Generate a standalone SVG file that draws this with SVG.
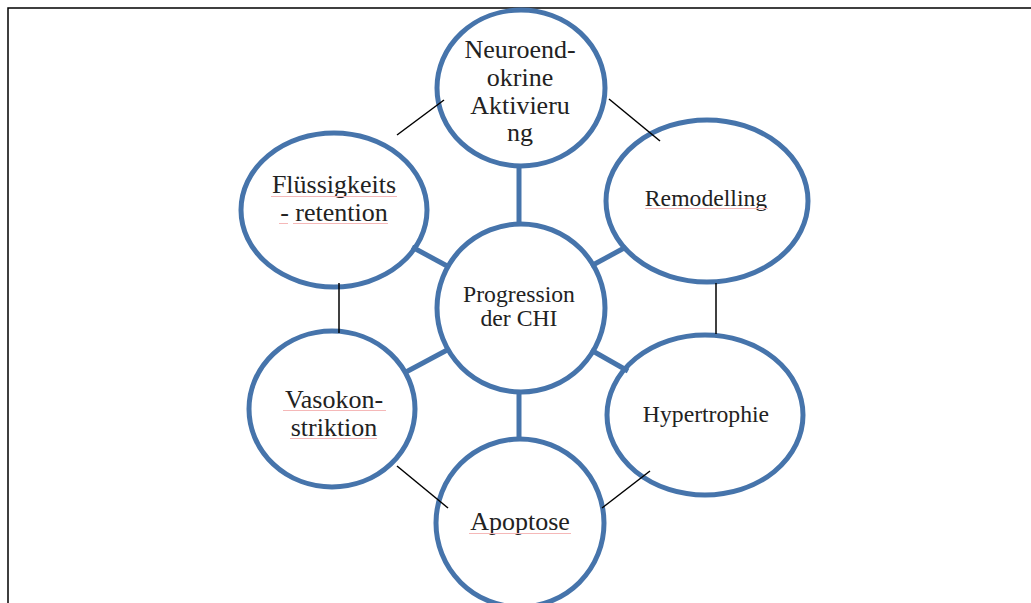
<svg xmlns="http://www.w3.org/2000/svg" width="1031" height="603" viewBox="0 0 1031 603">
<style>
.c{fill:#fff;stroke:#4674ab;stroke-width:5}
.t{font-family:"Liberation Serif","Times New Roman",serif;fill:#222;text-anchor:middle}
.l{font-size:26px}
.s{font-size:23.7px}
.thick{stroke:#4674ab;stroke-width:5;fill:none}
.thin{stroke:#000;stroke-width:1.5;fill:none}
.sq{stroke:#f5b8b8;stroke-width:1;fill:none}
</style>
<rect x="0" y="0" width="1031" height="603" fill="#fff"/>
<path d="M8 603 V8 H1031" fill="none" stroke="#000" stroke-width="1.5"/>
<g id="center">
<ellipse class="c" cx="521" cy="308" rx="84" ry="84"/>
<text class="t s" x="519" y="302">Progression</text>
<text class="t s" x="519" y="326">der CHI</text>
</g>
<g id="neuro">
<ellipse class="c" cx="521" cy="88" rx="84" ry="78"/>
<text class="t l" x="520" y="58">Neuroend-</text>
<text class="t l" x="520" y="86">okrine</text>
<text class="t l" x="520" y="114">Aktivieru</text>
<text class="t l" x="520" y="141">ng</text>
</g>
<g id="fluessig">
<ellipse class="c" cx="334" cy="210" rx="93" ry="77"/>
<text class="t l" x="334" y="193">Flüssigkeits</text>
<text class="t l" x="334" y="221">- retention</text>
<line class="sq" x1="271" y1="196.5" x2="397" y2="196.5"/>
<line class="sq" x1="279" y1="223.5" x2="288" y2="223.5"/>
<line class="sq" x1="293" y1="223.5" x2="388" y2="223.5"/>
</g>
<g id="remodelling">
<ellipse class="c" cx="707" cy="201" rx="101" ry="81"/>
<text class="t s" x="706" y="206">Remodelling</text>
<line class="sq" x1="645" y1="208.5" x2="768" y2="208.5"/>
</g>
<g id="vaso">
<ellipse class="c" cx="332" cy="409" rx="83" ry="78"/>
<text class="t l" x="334" y="408">Vasokon-</text>
<text class="t l" x="334" y="436">striktion</text>
<line class="sq" x1="283" y1="410.5" x2="386" y2="410.5"/>
<line class="sq" x1="290" y1="438.5" x2="377" y2="438.5"/>
</g>
<g id="hyper">
<ellipse class="c" cx="705" cy="415" rx="98" ry="80"/>
<text class="t s" x="706" y="422">Hypertrophie</text>
</g>
<g id="apoptose">
<ellipse class="c" cx="520" cy="523" rx="84" ry="84"/>
<text class="t l" x="520" y="530">Apoptose</text>
<line class="sq" x1="469" y1="533.5" x2="571" y2="533.5"/>
</g>
<g id="connectors">
<line class="thick" x1="519" y1="164" x2="519" y2="226"/>
<line class="thick" x1="519" y1="391" x2="519" y2="441"/>
<line class="thick" x1="412" y1="247" x2="449" y2="267"/>
<line class="thick" x1="591" y1="266" x2="626" y2="247"/>
<line class="thick" x1="406" y1="372" x2="449" y2="349"/>
<line class="thick" x1="591" y1="350" x2="628" y2="371"/>
<line class="thin" x1="397" y1="135" x2="444" y2="100"/>
<line class="thin" x1="609" y1="99" x2="660" y2="141"/>
<line class="thin" x1="339" y1="283" x2="339" y2="333"/>
<line class="thin" x1="716" y1="283" x2="716" y2="334"/>
<line class="thin" x1="397" y1="466" x2="448" y2="508"/>
<line class="thin" x1="602" y1="508" x2="650" y2="471"/>
</g>
</svg>
